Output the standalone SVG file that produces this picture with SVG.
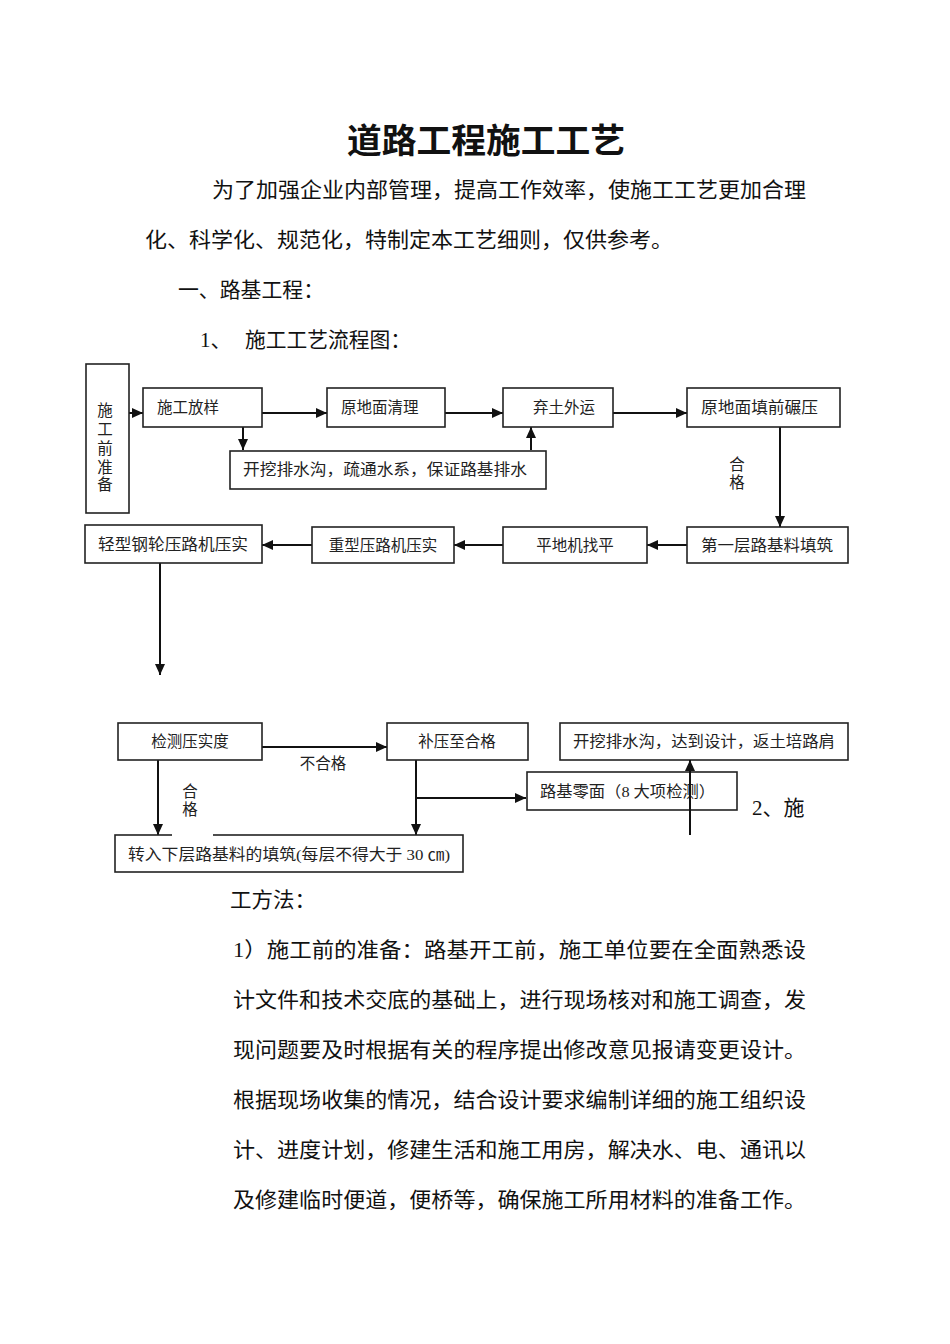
<svg xmlns="http://www.w3.org/2000/svg" width="950" height="1344" viewBox="0 0 950 1344">
<style>
text{font-family:"Liberation Serif","Noto Sans CJK SC",serif;fill:#111}
.t{font-size:34px;font-weight:bold}
.p{font-size:21px}
.b{font-size:15.5px;fill:#222}
.box{fill:#fff;stroke:#222;stroke-width:1.6}
.c{fill:none;stroke:#111;stroke-width:2}
</style>
<defs>
<marker id="ah" markerUnits="userSpaceOnUse" markerWidth="12" markerHeight="10" refX="11" refY="5" orient="auto">
<path d="M0,0 L11,5 L0,10 z" fill="#111"/>
</marker>
</defs>
<rect width="950" height="1344" fill="#fff"/>

<text class="t" x="486" y="153" text-anchor="middle" textLength="278" lengthAdjust="spacingAndGlyphs">道路工程施工工艺</text>
<text class="p" x="212" y="197" textLength="594" lengthAdjust="spacingAndGlyphs">为了加强企业内部管理，提高工作效率，使施工工艺更加合理</text>
<text class="p" x="145" y="247" textLength="528" lengthAdjust="spacingAndGlyphs">化、科学化、规范化，特制定本工艺细则，仅供参考。</text>
<text class="p" x="178" y="297" textLength="146" lengthAdjust="spacingAndGlyphs">一、路基工程：</text>
<text class="p" x="200" y="347">1、</text>
<text class="p" x="245" y="347" textLength="166" lengthAdjust="spacingAndGlyphs">施工工艺流程图：</text>

<g id="connectors">
<path class="c" d="M129,413 H143" marker-end="url(#ah)"/>
<path class="c" d="M262,413 H327" marker-end="url(#ah)"/>
<path class="c" d="M445,413 H503" marker-end="url(#ah)"/>
<path class="c" d="M613,413 H687" marker-end="url(#ah)"/>
<path class="c" d="M243,427 V450" marker-end="url(#ah)"/>
<path class="c" d="M531,450 V427" marker-end="url(#ah)"/>
<path class="c" d="M780,427 V527" marker-end="url(#ah)"/>
<path class="c" d="M687,545 H647" marker-end="url(#ah)"/>
<path class="c" d="M503,545 H454" marker-end="url(#ah)"/>
<path class="c" d="M312,545 H262" marker-end="url(#ah)"/>
<path class="c" d="M160,563 V675" marker-end="url(#ah)"/>
<path class="c" d="M262,747 H387" marker-end="url(#ah)"/>
<path class="c" d="M158,760 V835" marker-end="url(#ah)"/>
<path class="c" d="M416,760 V835" marker-end="url(#ah)"/>
<path class="c" d="M416,798 H526" marker-end="url(#ah)"/>
<text class="b" x="737" y="470" text-anchor="middle">合</text>
<text class="b" x="737" y="488" text-anchor="middle">格</text>
<text class="b" x="323" y="769" text-anchor="middle">不合格</text>
<text class="b" x="190" y="797" text-anchor="middle">合</text>
<text class="b" x="190" y="815" text-anchor="middle">格</text>
</g>

<g id="n-prep">
<rect class="box" x="86" y="364" width="43" height="149"/>
<text class="b" x="105" y="416" text-anchor="middle">施</text>
<text class="b" x="105" y="435" text-anchor="middle">工</text>
<text class="b" x="105" y="454" text-anchor="middle">前</text>
<text class="b" x="105" y="473" text-anchor="middle">准</text>
<text class="b" x="105" y="490" text-anchor="middle">备</text>
</g>
<g id="n-fangyang">
<rect class="box" x="143" y="388" width="119" height="39"/>
<text class="b" x="157" y="413">施工放样</text>
</g>
<g id="n-qingli">
<rect class="box" x="327" y="388" width="118" height="39"/>
<text class="b" x="341" y="413">原地面清理</text>
</g>
<g id="n-qitu">
<rect class="box" x="503" y="388" width="110" height="39"/>
<text class="b" x="533" y="413">弃土外运</text>
</g>
<g id="n-nianya">
<rect class="box" x="687" y="388" width="153" height="39"/>
<text class="b" x="701" y="413" textLength="117" lengthAdjust="spacingAndGlyphs">原地面填前碾压</text>
</g>
<g id="n-paishui">
<rect class="box" x="230" y="451" width="316" height="38"/>
<text class="b" x="243" y="475" textLength="284" lengthAdjust="spacingAndGlyphs">开挖排水沟，疏通水系，保证路基排水</text>
</g>
<g id="n-diyiceng">
<rect class="box" x="687" y="527" width="161" height="36"/>
<text class="b" x="701" y="551" textLength="132" lengthAdjust="spacingAndGlyphs">第一层路基料填筑</text>
</g>
<g id="n-pingdi">
<rect class="box" x="503" y="527" width="144" height="36"/>
<text class="b" x="575" y="551" text-anchor="middle">平地机找平</text>
</g>
<g id="n-zhongxing">
<rect class="box" x="312" y="527" width="142" height="36"/>
<text class="b" x="383" y="551" text-anchor="middle">重型压路机压实</text>
</g>
<g id="n-qingxing">
<rect class="box" x="85" y="525" width="177" height="38"/>
<text class="b" x="173" y="550" text-anchor="middle" textLength="150" lengthAdjust="spacingAndGlyphs">轻型钢轮压路机压实</text>
</g>
<g id="n-jiance">
<rect class="box" x="118" y="723" width="144" height="37"/>
<text class="b" x="190" y="747" text-anchor="middle">检测压实度</text>
</g>
<g id="n-buya">
<rect class="box" x="387" y="723" width="141" height="37"/>
<text class="b" x="457" y="747" text-anchor="middle">补压至合格</text>
</g>
<g id="n-kaiwa2">
<rect class="box" x="560" y="723" width="288" height="37"/>
<text class="b" x="573" y="747" textLength="262" lengthAdjust="spacingAndGlyphs">开挖排水沟，达到设计，返土培路肩</text>
</g>
<g id="n-lingmian">
<rect class="box" x="527" y="772" width="210" height="38"/>
<text class="b" x="540" y="797" textLength="175" lengthAdjust="spacingAndGlyphs">路基零面（8 大项检测）</text>
</g>
<g id="n-zhuanru">
<rect class="box" x="115" y="835" width="348" height="37"/>
<rect x="172" y="833" width="41" height="4" fill="#fff"/>
<text class="b" x="128" y="860" textLength="322" lengthAdjust="spacingAndGlyphs">转入下层路基料的填筑(每层不得大于 30 ㎝)</text>
</g>
<path class="c" d="M690,835 V760" marker-end="url(#ah)"/>

<text class="p" x="752" y="815">2、施</text>
<text class="p" x="230" y="907" textLength="86" lengthAdjust="spacingAndGlyphs">工方法：</text>
<text class="p" x="233" y="957" textLength="573" lengthAdjust="spacingAndGlyphs">1）施工前的准备：路基开工前，施工单位要在全面熟悉设</text>
<text class="p" x="233" y="1007" textLength="573" lengthAdjust="spacingAndGlyphs">计文件和技术交底的基础上，进行现场核对和施工调查，发</text>
<text class="p" x="233" y="1057" textLength="573" lengthAdjust="spacingAndGlyphs">现问题要及时根据有关的程序提出修改意见报请变更设计。</text>
<text class="p" x="233" y="1107" textLength="573" lengthAdjust="spacingAndGlyphs">根据现场收集的情况，结合设计要求编制详细的施工组织设</text>
<text class="p" x="233" y="1157" textLength="573" lengthAdjust="spacingAndGlyphs">计、进度计划，修建生活和施工用房，解决水、电、通讯以</text>
<text class="p" x="233" y="1207" textLength="573" lengthAdjust="spacingAndGlyphs">及修建临时便道，便桥等，确保施工所用材料的准备工作。</text>
</svg>
